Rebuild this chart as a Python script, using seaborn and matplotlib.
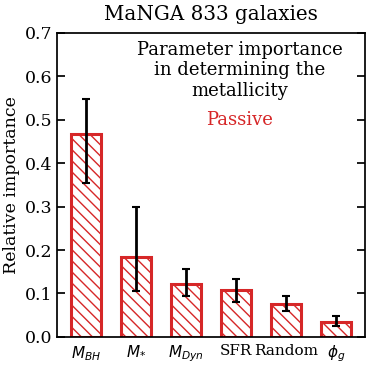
import matplotlib
matplotlib.use("Agg")
import matplotlib.pyplot as plt
import seaborn as sns
import numpy as np
import pandas as pd

# parameters and their importance
params = [r"$M_{BH}$", r"$M_{*}$", r"$M_{Dyn}$", "SFR", "Random", r"$\phi_g$"]
importance = [0.468, 0.185, 0.121, 0.109, 0.075, 0.035]
err_low = [0.355, 0.105, 0.095, 0.080, 0.060, 0.025]
err_high = [0.548, 0.298, 0.157, 0.134, 0.094, 0.049]

sns.set_theme(style="ticks", rc={"text.color": "black", "axes.labelcolor": "black",
                                 "xtick.color": "black", "ytick.color": "black",
                                 "axes.edgecolor": "black"})
plt.rcParams['font.family'] = ['DejaVu Serif']
plt.rcParams['mathtext.fontset'] = 'dejavusans'
plt.rcParams['hatch.color'] = '#d62728'
plt.rcParams['hatch.linewidth'] = 1.0

df = pd.DataFrame({"param": params, "importance": importance})

fig, ax = plt.subplots(figsize=(3.73, 3.65), dpi=100)
sns.barplot(data=df, x="param", y="importance", ax=ax, width=0.6,
            color="white", edgecolor="#d62728", linewidth=2.2)
# back-diagonal hatching like the original
for bar in ax.patches:
    bar.set_hatch("\\" * 3)

yerr = [np.array(importance) - np.array(err_low), np.array(err_high) - np.array(importance)]
ax.errorbar(np.arange(len(params)), importance, yerr=yerr, fmt="none",
            ecolor="black", elinewidth=2, capsize=3, capthick=1.5)

ax.set_ylim(0, 0.7)
ax.set_xlim(-0.58, 5.58)
ax.set_xlabel("")
ax.set_ylabel("Relative importance", fontsize=12.5, labelpad=3)
ax.set_title("MaNGA 833 galaxies", fontsize=14.3, pad=9)
ax.tick_params(axis="y", direction="in", length=6, right=True, labelsize=12.5)
ax.tick_params(axis="x", length=0, labelsize=11, pad=5)

ax.text(0.594, 0.972, "Parameter importance\nin determining the\nmetallicity",
        transform=ax.transAxes, ha="center", va="top", fontsize=13, linespacing=1.15)
ax.text(0.594, 0.714, "Passive", transform=ax.transAxes, ha="center", va="center",
        fontsize=13, color="#d62728")

fig.subplots_adjust(left=0.153, right=0.978, top=0.91, bottom=0.077)
fig.savefig("out.png")
